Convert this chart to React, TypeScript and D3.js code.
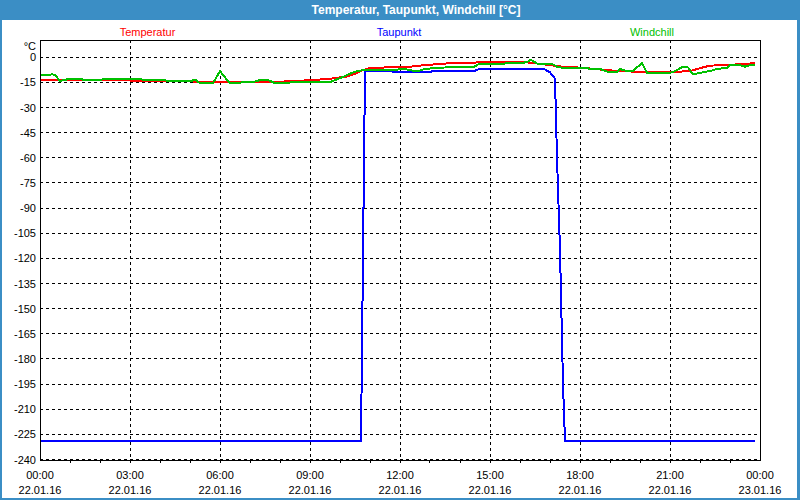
import React from "react";
import * as d3 from "d3";

// ---- data (minutes since 22.01.16 00:00, value in °C) ----
const seriesNames = ["Temperatur", "Taupunkt", "Windchill"];
const seriesColors = ["#ff0000", "#0000ff", "#00c000"];

const temperatur: [number, number][] = [
  [0, -13.3], [40, -13.3], [140, -13.6], [200, -14.0], [280, -14.3], [360, -14.8],
  [460, -14.8], [494, -14.4], [534, -13.8], [554, -13.4], [580, -12.8], [614, -11.5],
  [630, -9.8], [644, -7.9], [660, -6.3], [734, -5.8], [760, -5.0], [786, -4.3],
  [814, -3.7], [874, -3.1], [940, -2.6], [980, -3.2], [1010, -4.3], [1040, -5.5],
  [1086, -6.3], [1120, -7.3], [1160, -8.3], [1214, -8.8], [1260, -8.8], [1300, -8.3],
  [1320, -6.5], [1340, -5.0], [1374, -4.6], [1414, -3.9], [1430, -3.5],
];

const taupunkt: [number, number][] = [
  [0, -229], [642, -229], [650, -7.9], [700, -7.9], [704, -8.5], [740, -8.5],
  [744, -9.0], [780, -9.0], [784, -8.2], [870, -8.0], [876, -7.3], [1010, -7.3],
  [1020, -9.0], [1030, -12.8], [1034, -60], [1040, -115], [1046, -195], [1050, -229],
  [1430, -229],
];

const windchill: [number, number][] = [
  [0, -10.8], [16, -10.8], [24, -10.2], [30, -10.5], [40, -14.2], [60, -12.8],
  [80, -12.8], [90, -13.8], [114, -13.8], [126, -13.2], [166, -13.2], [180, -12.8],
  [194, -12.8], [210, -13.6], [250, -13.8], [260, -14.4], [300, -14.4], [310, -13.3],
  [320, -15.4], [346, -15.4], [360, -8.3], [374, -13.5], [380, -15.2], [400, -15.2],
  [410, -14.5], [430, -14.5], [440, -13.6], [450, -13.3], [460, -14.0], [470, -15.6],
  [494, -15.6], [504, -14.8], [580, -14.8], [600, -12.5], [620, -9.8], [634, -8.3],
  [650, -7.5], [720, -7.3], [734, -7.3], [744, -7.9], [760, -7.9], [770, -7.0],
  [786, -6.5], [810, -6.1], [866, -6.1], [876, -4.3], [920, -4.3], [930, -3.7],
  [960, -3.7], [974, -2.8], [982, -1.5], [994, -3.8], [1010, -4.3], [1026, -4.3],
  [1036, -6.0], [1050, -6.3], [1080, -6.5], [1120, -7.0], [1134, -8.5], [1154, -9.0],
  [1160, -7.0], [1174, -8.3], [1186, -8.0], [1204, -3.5], [1214, -9.2], [1260, -9.3],
  [1266, -8.8], [1284, -6.0], [1296, -6.1], [1306, -10.2], [1320, -9.3], [1340, -8.2],
  [1354, -7.0], [1374, -6.3], [1380, -4.8], [1400, -4.8], [1410, -5.6], [1420, -4.7],
  [1430, -4.5],
];

const yTicks = [0, -15, -30, -45, -60, -75, -90, -105, -120, -135, -150, -165, -180, -195, -210, -225, -240];
const xTickMinutes = [0, 180, 360, 540, 720, 900, 1080, 1260, 1440];
const xTickTimes = ["00:00", "03:00", "06:00", "09:00", "12:00", "15:00", "18:00", "21:00", "00:00"];
const xTickDates = ["22.01.16", "22.01.16", "22.01.16", "22.01.16", "22.01.16", "22.01.16", "22.01.16", "22.01.16", "23.01.16"];
const hourTickMinutes = [60, 120, 240, 300, 420, 480, 600, 660, 780, 840, 960, 1020, 1140, 1200, 1320, 1380];

const titleText = "Temperatur, Taupunkt, Windchill [°C]";
const unitText = "°C";

const W = 800;
const H = 500;
const FONT = "'Liberation Sans', Arial, sans-serif";
const FRAME = "#3b8ec5";

export default function App() {
  const x = d3.scaleLinear().domain([0, 1440]).range([40, 760]);
  const y = d3.scaleLinear().domain([-240, 10]).range([459.5, 40.5]);
  const line = d3
    .line<[number, number]>()
    .x((d) => x(d[0]))
    .y((d) => y(d[1]));

  const px = (v: number) => Math.floor(v) + 0.5;
  const series = [temperatur, taupunkt, windchill];
  const drawOrder = [1, 0, 2];
  const legendX = [147.5, 399, 652];

  return (
    <svg
      width={W}
      height={H}
      style={{ position: "absolute", left: 0, top: 0, display: "block" }}
      fontFamily={FONT}
    >
      <rect x={0} y={0} width={W} height={H} fill={FRAME} />
      <rect x={2} y={20} width={795} height={478} fill="#ffffff" />
      <text x={416} y={14} fill="#ffffff" fontWeight="bold" fontSize={12} textAnchor="middle">
        {titleText}
      </text>

      {seriesNames.map((n, i) => (
        <text key={n} x={legendX[i]} y={36} fill={seriesColors[i]} fontSize={11} textAnchor="middle">
          {n}
        </text>
      ))}

      {/* horizontal grid */}
      {yTicks.map((t) => (
        <line
          key={"hg" + t}
          x1={x(0)}
          x2={x(1440)}
          y1={px(y(t))}
          y2={px(y(t))}
          stroke="#000"
          strokeWidth={1}
          strokeDasharray="3,3"
          shapeRendering="crispEdges"
        />
      ))}
      {/* vertical grid */}
      {xTickMinutes.slice(1, -1).map((m) => (
        <line
          key={"vg" + m}
          x1={px(x(m))}
          x2={px(x(m))}
          y1={40}
          y2={464}
          stroke="#000"
          strokeWidth={1}
          strokeDasharray="3,3"
          shapeRendering="crispEdges"
        />
      ))}
      {hourTickMinutes.map((m) => (
        <line
          key={"ht" + m}
          x1={px(x(m))}
          x2={px(x(m))}
          y1={460}
          y2={463}
          stroke="#000"
          strokeWidth={1}
          shapeRendering="crispEdges"
        />
      ))}

      {/* series */}
      {drawOrder.map((i) => (
        <path
          key={"s" + i}
          d={line(series[i]) || ""}
          fill="none"
          stroke={seriesColors[i]}
          strokeWidth={2}
          strokeLinejoin="round"
          shapeRendering="crispEdges"
        />
      ))}

      {/* frame */}
      <rect x={40.5} y={40.5} width={720} height={420} fill="none" stroke="#000" strokeWidth={1} shapeRendering="crispEdges" />

      {/* y labels */}
      <text x={36} y={50} fontSize={11} textAnchor="end" fill="#000">
        {unitText}
      </text>
      {yTicks.map((t) => (
        <text key={"yl" + t} x={36} y={y(t) + 4} fontSize={11} textAnchor="end" fill="#000">
          {t}
        </text>
      ))}

      {/* x labels */}
      {xTickMinutes.map((m, i) => (
        <g key={"xl" + i}>
          <text x={x(m)} y={479} fontSize={11} textAnchor="middle" fill="#000">
            {xTickTimes[i]}
          </text>
          <text x={x(m)} y={494} fontSize={11} textAnchor="middle" fill="#000">
            {xTickDates[i]}
          </text>
        </g>
      ))}
    </svg>
  );
}
